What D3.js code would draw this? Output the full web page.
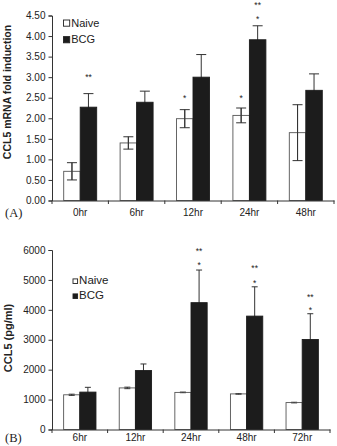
<!DOCTYPE html>
<html><head><meta charset="utf-8">
<script src="https://cdn.jsdelivr.net/npm/d3@7"></script>
<style>
html,body{margin:0;padding:0;background:#fff;}
svg{display:block;}
text{font-family:Arial,"Liberation Sans",Helvetica,sans-serif;fill:#222;}
</style></head><body>
<script>
// ---- Panel A data ----
const catsA = ["0hr","6hr","12hr","24hr","48hr"];
const naiveA = [0.71, 1.40, 1.99, 2.07, 1.65];
const naiveErrA = [0.21, 0.15, 0.22, 0.18, 0.68];
const bcgA = [2.27, 2.39, 3.00, 3.91, 2.68];
const bcgErrA = [0.33, 0.27, 0.55, 0.34, 0.40];
const ticksA = [0,0.5,1,1.5,2,2.5,3,3.5,4,4.5];
// significance marks: [category, series, text, y-value]
const sigA = [["0hr","BCG","**",2.93],["12hr","Naive","*",2.42],["24hr","Naive","*",2.42],["24hr","BCG","*",4.34],["24hr","BCG","**",4.68]];

// ---- Panel B data ----
const catsB = ["6hr","12hr","24hr","48hr","72hr"];
const naiveB = [1160, 1390, 1240, 1190, 900];
const naiveErrB = [20, 25, 10, 10, 10];
const bcgB = [1250, 1970, 4240, 3790, 3010];
const bcgErrB = [160, 220, 1090, 980, 860];
const ticksB = [0,1000,2000,3000,4000,5000,6000];
const sigB = [["24hr","BCG","*",5383],["24hr","BCG","**",5850],["48hr","BCG","*",4783],["48hr","BCG","**",5283],["72hr","BCG","*",3883],["72hr","BCG","**",4317]];

const series = ["Naive","BCG"];
const W = 337, H = 446;
const svg = d3.select("body").append("svg").attr("width",W).attr("height",H);

function panel(o){
  const g = svg.append("g");
  const x = d3.scaleBand().domain(o.cats).range([o.x0,o.x1]).paddingInner(0).paddingOuter(0);
  const xs = d3.scaleBand().domain(series).range([0,x.bandwidth()]).paddingInner(0).paddingOuter(o.pad);
  const y = d3.scaleLinear().domain([0,o.max]).range([o.y0,o.y1]);
  const rows = o.cats.map((c,i)=>({c, vals:[
    {s:"Naive",v:o.naive[i],e:o.naiveErr[i]},
    {s:"BCG",v:o.bcg[i],e:o.bcgErr[i]}]}));
  const cg = g.selectAll("g.cat").data(rows).join("g").attr("transform",d=>`translate(${x(d.c)},0)`);
  // error bars (behind bars for lower part)
  const eb = cg.selectAll("g.eb").data(d=>d.vals).join("g");
  eb.append("line").attr("x1",d=>xs(d.s)+xs.bandwidth()/2).attr("x2",d=>xs(d.s)+xs.bandwidth()/2)
    .attr("y1",d=>y(d.v-d.e)).attr("y2",d=>y(d.v+d.e)).attr("stroke","#333").attr("stroke-width",1);
  eb.append("line").attr("x1",d=>xs(d.s)+xs.bandwidth()/2-o.cap).attr("x2",d=>xs(d.s)+xs.bandwidth()/2+o.cap)
    .attr("y1",d=>y(d.v+d.e)).attr("y2",d=>y(d.v+d.e)).attr("stroke","#333").attr("stroke-width",1);
  eb.append("line").attr("x1",d=>xs(d.s)+xs.bandwidth()/2-o.cap).attr("x2",d=>xs(d.s)+xs.bandwidth()/2+o.cap)
    .attr("y1",d=>y(d.v-d.e)).attr("y2",d=>y(d.v-d.e)).attr("stroke","#333").attr("stroke-width",1);
  cg.selectAll("rect").data(d=>d.vals).join("rect")
    .attr("x",d=>xs(d.s)).attr("width",xs.bandwidth())
    .attr("y",d=>y(d.v)).attr("height",d=>y(0)-y(d.v))
    .attr("fill",d=>d.s==="BCG"?"#1c1c1c":"none")
    .attr("stroke",d=>d.s==="BCG"?"#1c1c1c":"#555").attr("stroke-width",0.9);
  // redraw upper error segments over white bars
  cg.selectAll("line.up").data(d=>d.vals.filter(v=>v.s==="Naive")).join("line")
    .attr("x1",d=>xs(d.s)+xs.bandwidth()/2).attr("x2",d=>xs(d.s)+xs.bandwidth()/2)
    .attr("y1",d=>y(d.v-d.e)).attr("y2",d=>y(d.v+d.e)).attr("stroke","#333").attr("stroke-width",1);
  // significance
  g.selectAll("text.sig").data(o.sig).join("text")
    .attr("x",d=>x(d[0])+xs(d[1])+xs.bandwidth()/2).attr("y",d=>y(d[3]))
    .attr("text-anchor","middle").attr("font-size",8.5).text(d=>d[2]);
  // y axis
  const ya = d3.axisLeft(y).tickValues(o.ticks).tickFormat(o.fmt).tickSize(3.5).tickPadding(3);
  const yg = g.append("g").attr("transform",`translate(${o.x0},0)`).call(ya);
  yg.select(".domain").attr("stroke","#333");
  yg.selectAll(".tick line").attr("stroke","#333");
  yg.selectAll(".tick text").attr("font-size",o.tfs).attr("fill","#222").style("font-family","Arial,'Liberation Sans',sans-serif");
  // x axis
  const xa = d3.axisBottom(x).tickSize(0).tickPadding(6);
  const xg = g.append("g").attr("transform",`translate(0,${o.y0})`).call(xa);
  xg.select(".domain").attr("stroke","#333");
  xg.selectAll(".tick text").attr("font-size",o.tfs).attr("fill","#222").attr("dy",null).attr("y",o.xly-o.y0).style("font-family","Arial,'Liberation Sans',sans-serif");
  const bounds = o.cats.map(c=>x(c)).concat([o.x1]);
  g.selectAll("line.xt").data(bounds).join("line").attr("x1",d=>d).attr("x2",d=>d)
    .attr("y1",o.y0).attr("y2",o.y0+3.5).attr("stroke","#333");
  // y label
  g.append("text").attr("transform",`translate(${o.ylx},${o.yly}) rotate(-90)`)
    .attr("text-anchor","middle").attr("font-weight","bold").attr("font-size",o.ylfs).text(o.ylabel);
  // panel label
  g.append("text").attr("x",5).attr("y",o.xly+1).attr("font-size",12.5)
    .style("font-family","'Liberation Serif','DejaVu Serif',serif").text(o.plabel);
  // legend
  const lg = g.append("g");
  series.forEach((s,i)=>{
    lg.append("rect").attr("x",o.lx).attr("y",o.ly+i*o.lstep-o.lsq-0.5).attr("width",o.lsq).attr("height",o.lsq)
      .attr("fill",s==="BCG"?"#1c1c1c":"#fff").attr("stroke","#222").attr("stroke-width",0.9);
    lg.append("text").attr("x",o.lx+o.lsq+1.5).attr("y",o.ly+i*o.lstep).attr("font-size",o.lfs).text(s);
  });
}

panel({cats:catsA,naive:naiveA,naiveErr:naiveErrA,bcg:bcgA,bcgErr:bcgErrA,ticks:ticksA,sig:sigA,
  max:4.5,x0:52,x1:334,y0:200.5,y1:15.5,pad:0.71,cap:5,fmt:d3.format(".2f"),tfs:10,xly:216,
  ylx:11,yly:92,ylfs:10.5,ylabel:"CCL5 mRNA fold induction",plabel:"(A)",
  lx:63.5,ly:26.7,lstep:16.6,lsq:6.2,lfs:11});
panel({cats:catsB,naive:naiveB,naiveErr:naiveErrB,bcg:bcgB,bcgErr:bcgErrB,ticks:ticksB,sig:sigB,
  max:6000,x0:52,x1:330,y0:429.5,y1:250,pad:0.72,cap:3,fmt:d3.format("d"),tfs:10,xly:441,
  ylx:12,yly:338,ylfs:11,ylabel:"CCL5 (pg/ml)",plabel:"(B)",
  lx:73,ly:284,lstep:15,lsq:4.6,lfs:11.5});
</script>
</body></html>
